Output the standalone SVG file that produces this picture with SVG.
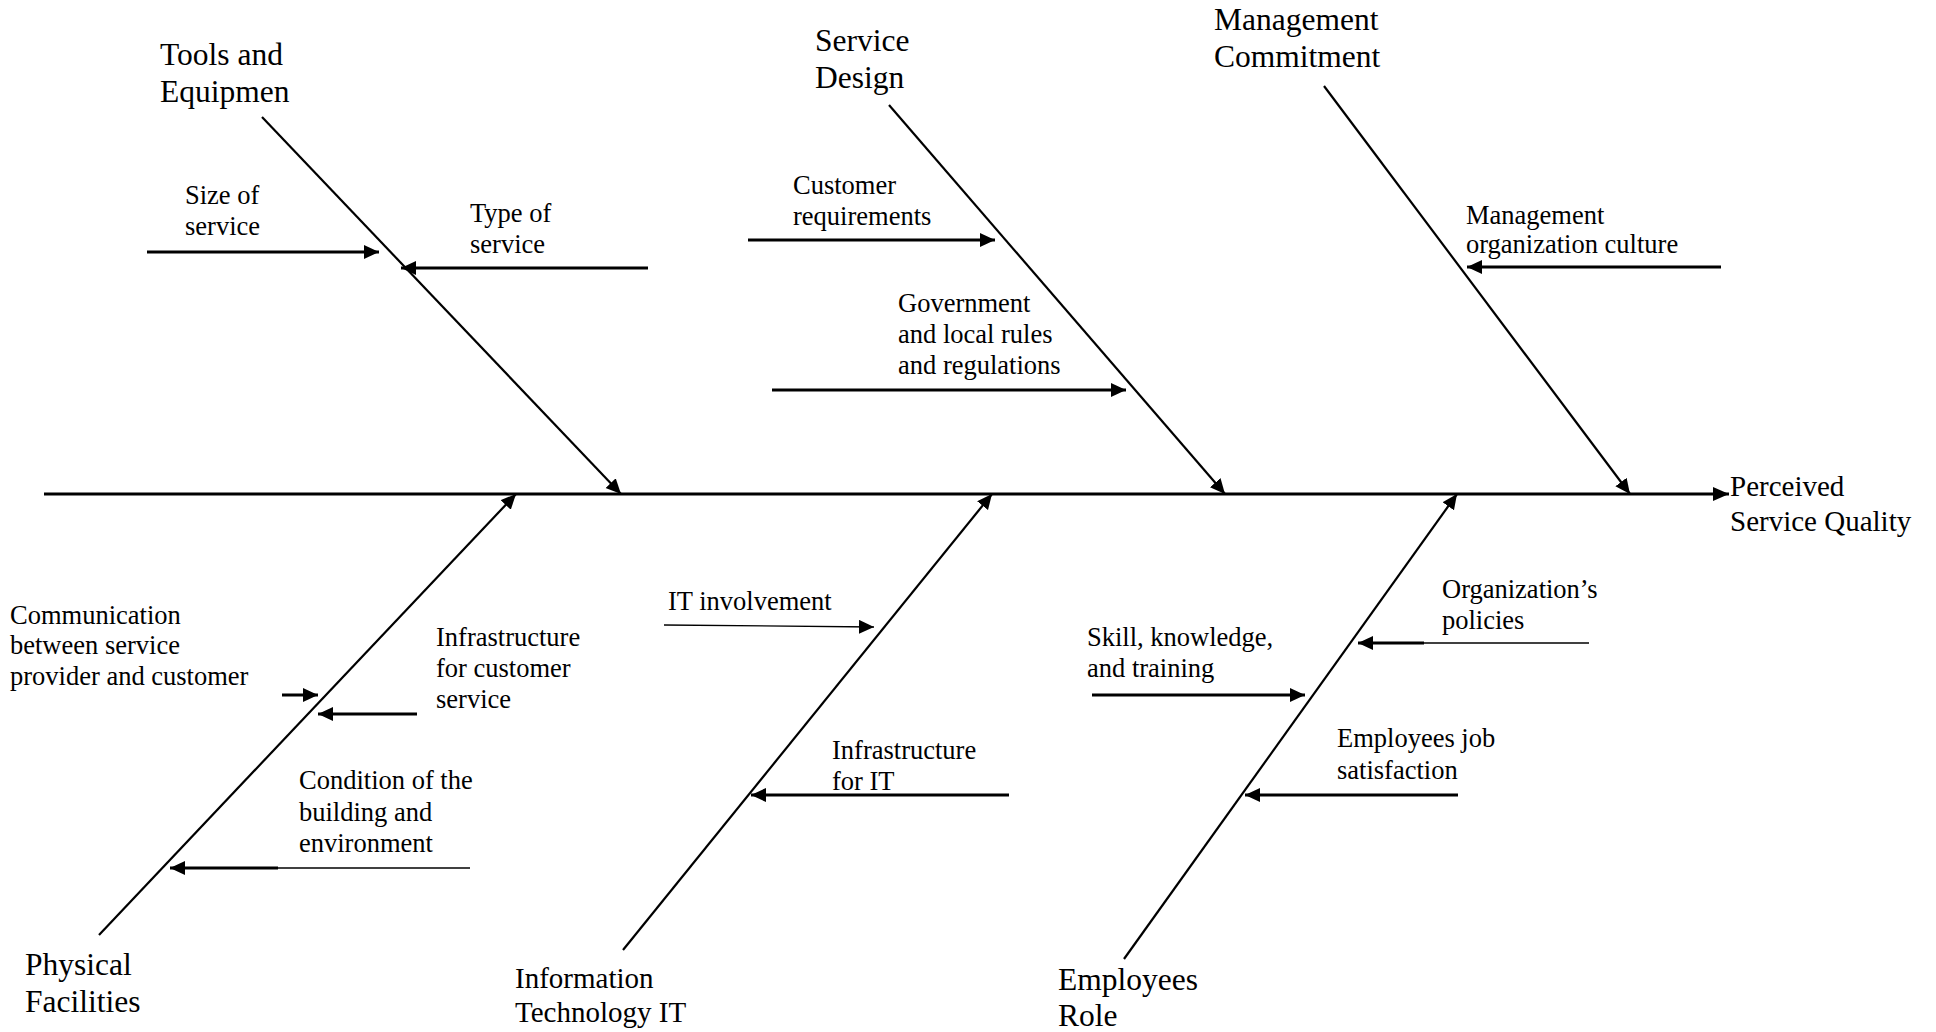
<svg xmlns="http://www.w3.org/2000/svg" width="1936" height="1032" viewBox="0 0 1936 1032">
<style>
text{font-family:"Liberation Serif","Times New Roman",serif;fill:#000}
.big{font-size:31.5px}
.mid{font-size:29px}
.sm{font-size:26.5px}
.ln{stroke:#000;fill:none}
.spine{stroke-width:3.2}
.bone{stroke-width:2.2}
.sub{stroke-width:2.8}
.thin{stroke-width:1.3}
</style>
<defs>
<marker id="ah" markerUnits="userSpaceOnUse" markerWidth="16" markerHeight="15" refX="15" refY="7" orient="auto">
<path d="M0,0 L15,7 L0,14 z" fill="#000"/>
</marker>
<marker id="ahs" markerUnits="userSpaceOnUse" markerWidth="17" markerHeight="15" refX="16" refY="7" orient="auto">
<path d="M0,0 L16,7 L0,14 z" fill="#000"/>
</marker>
</defs>
<rect width="1936" height="1032" fill="#fff"/>
<g id="connectors">
<line class="ln spine" x1="44" y1="494" x2="1729" y2="494" marker-end="url(#ahs)"/>
<line class="ln bone" x1="262" y1="117" x2="621" y2="494" marker-end="url(#ah)"/>
<line class="ln bone" x1="889" y1="105" x2="1225" y2="494" marker-end="url(#ah)"/>
<line class="ln bone" x1="1324" y1="86" x2="1630" y2="494" marker-end="url(#ah)"/>
<line class="ln bone" x1="99" y1="935" x2="516" y2="494" marker-end="url(#ah)"/>
<line class="ln bone" x1="623" y1="950" x2="992" y2="494" marker-end="url(#ah)"/>
<line class="ln bone" x1="1124" y1="959" x2="1457" y2="494" marker-end="url(#ah)"/>
<line class="ln sub" x1="147" y1="252" x2="379" y2="252" marker-end="url(#ah)"/>
<line class="ln sub" x1="648" y1="268" x2="401" y2="268" marker-end="url(#ah)"/>
<line class="ln sub" x1="748" y1="240" x2="995" y2="240" marker-end="url(#ah)"/>
<line class="ln sub" x1="772" y1="390" x2="1126" y2="390" marker-end="url(#ah)"/>
<line class="ln sub" x1="1721" y1="267" x2="1467" y2="267" marker-end="url(#ah)"/>
<line class="ln sub" x1="282" y1="695" x2="318" y2="695" marker-end="url(#ah)"/>
<line class="ln sub" x1="417" y1="714" x2="318" y2="714" marker-end="url(#ah)"/>
<line class="ln thin" x1="470" y1="868" x2="278" y2="868"/>
<line class="ln sub" x1="278" y1="868" x2="170" y2="868" marker-end="url(#ah)"/>
<line class="ln thin" x1="664" y1="625" x2="874" y2="627" marker-end="url(#ah)"/>
<line class="ln sub" x1="1009" y1="795" x2="751" y2="795" marker-end="url(#ah)"/>
<line class="ln thin" x1="1589" y1="643" x2="1424" y2="643"/>
<line class="ln sub" x1="1424" y1="643" x2="1358" y2="643" marker-end="url(#ah)"/>
<line class="ln sub" x1="1092" y1="695" x2="1305" y2="695" marker-end="url(#ah)"/>
<line class="ln sub" x1="1458" y1="795" x2="1245" y2="795" marker-end="url(#ah)"/>
</g>
<g id="effect"><text class="mid" x="1730" y="496">Perceived</text><text class="mid" x="1730" y="531">Service Quality</text></g>
<g id="tools"><text class="big" x="160" y="65">Tools and</text><text class="big" x="160" y="102">Equipmen</text></g>
<g id="service-design"><text class="big" x="815" y="51">Service</text><text class="big" x="815" y="88">Design</text></g>
<g id="management"><text class="big" x="1214" y="30">Management</text><text class="big" x="1214" y="67">Commitment</text></g>
<g id="physical"><text class="big" x="25" y="975">Physical</text><text class="big" x="25" y="1012">Facilities</text></g>
<g id="it"><text class="mid" x="515" y="988">Information</text><text class="mid" x="515" y="1022">Technology IT</text></g>
<g id="employees"><text class="big" x="1058" y="990">Employees</text><text class="big" x="1058" y="1026">Role</text></g>
<g id="size-of-service"><text class="sm" x="185" y="204">Size of</text><text class="sm" x="185" y="235">service</text></g>
<g id="type-of-service"><text class="sm" x="470" y="222">Type of</text><text class="sm" x="470" y="253">service</text></g>
<g id="customer-req"><text class="sm" x="793" y="194">Customer</text><text class="sm" x="793" y="225">requirements</text></g>
<g id="government"><text class="sm" x="898" y="312">Government</text><text class="sm" x="898" y="343">and local rules</text><text class="sm" x="898" y="374">and regulations</text></g>
<g id="mgmt-culture"><text class="sm" x="1466" y="224">Management</text><text class="sm" x="1466" y="253">organization culture</text></g>
<g id="communication"><text class="sm" x="10" y="624">Communication</text><text class="sm" x="10" y="654">between service</text><text class="sm" x="10" y="685">provider and customer</text></g>
<g id="infra-customer"><text class="sm" x="436" y="646">Infrastructure</text><text class="sm" x="436" y="677">for customer</text><text class="sm" x="436" y="708">service</text></g>
<g id="condition"><text class="sm" x="299" y="789">Condition of the</text><text class="sm" x="299" y="821">building and</text><text class="sm" x="299" y="852">environment</text></g>
<g id="it-involvement"><text class="sm" x="668" y="610">IT involvement</text></g>
<g id="infra-it"><text class="sm" x="832" y="759">Infrastructure</text><text class="sm" x="832" y="790">for IT</text></g>
<g id="org-policies"><text class="sm" x="1442" y="598">Organization’s</text><text class="sm" x="1442" y="629">policies</text></g>
<g id="skill"><text class="sm" x="1087" y="646">Skill, knowledge,</text><text class="sm" x="1087" y="677">and training</text></g>
<g id="job-satisfaction"><text class="sm" x="1337" y="747">Employees job</text><text class="sm" x="1337" y="779">satisfaction</text></g>
</svg>
